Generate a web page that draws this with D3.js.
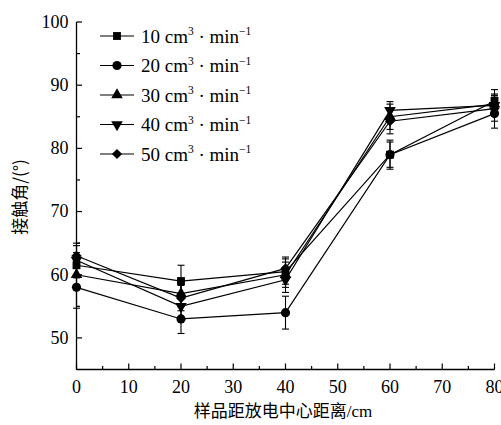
<!DOCTYPE html>
<html>
<head>
<meta charset="utf-8">
<script src="https://cdn.jsdelivr.net/npm/d3@7"></script>
<style>
  html, body { margin: 0; padding: 0; background: #fff; }
  #chart { width: 501px; height: 425px; }
  text { fill: #000; }
</style>
</head>
<body>
<div id="chart"></div>
<script>
// distance from discharge centre (cm)
const distances = [0, 20, 40, 60, 80]
const xTicks = [0, 10, 20, 30, 40, 50, 60, 70, 80]
const yTicks = [50, 60, 70, 80, 90, 100]

const seriesNames = ["10", "20", "30", "40", "50"]
const seriesSymbols = ["square", "circle", "triangle", "triangleDown", "diamond"]

// contact angle (deg)
const angle10 = [61.5, 59.0, 60.5, 79.0, 87.5]
const angle20 = [58.0, 53.0, 54.0, 79.0, 85.5]
const angle30 = [60.0, 57.0, 60.0, 85.0, 87.0]
const angle40 = [62.3, 55.0, 59.2, 86.0, 86.8]
const angle50 = [63.0, 56.3, 61.0, 84.3, 86.3]

// error bar half-lengths
const err10 = [2.0, 2.5, 2.0, 2.0, 1.8]
const err20 = [3.3, 2.3, 2.6, 2.3, 2.3]
const err30 = [2.0, 2.0, 2.0, 2.0, 1.6]
const err40 = [2.3, 2.0, 2.0, 1.4, 1.6]
const err50 = [2.0, 2.0, 1.8, 2.0, 2.0]

const allAngles = [angle10, angle20, angle30, angle40, angle50]
const allErrs = [err10, err20, err30, err40, err50]

const dataset = seriesNames.map((name, i) => ({
    name: name,
    symbol: seriesSymbols[i],
    points: distances.map((d, j) => ({ x: d, y: allAngles[i][j], e: allErrs[i][j] }))
}))

const width = 501
const height = 425

const svg = d3.select("#chart").append("svg")
    .attr("width", width)
    .attr("height", height)

const xScale = d3.scaleLinear().domain([0, 80]).range([76.5, 494.5])
const yScale = d3.scaleLinear().domain([45, 100]).range([369.5, 22])

const serif = "'Liberation Serif', 'Times New Roman', serif"
const cjk = "'Noto Sans CJK SC', sans-serif"

// axes: ticks pointing inwards, minor ticks every half step
const xAxis = svg.append("g").attr("transform", `translate(0, ${yScale(45)})`)
xAxis.append("line")
    .attr("x1", xScale(0)).attr("x2", xScale(80))
    .attr("stroke", "#000").attr("stroke-width", 1.3)
xAxis.selectAll(".xminor").data(d3.range(5, 80, 10)).join("line")
    .attr("x1", d => xScale(d)).attr("x2", d => xScale(d))
    .attr("y1", 0).attr("y2", -3.5)
    .attr("stroke", "#000").attr("stroke-width", 1.2)
xAxis.selectAll(".xmajor").data(xTicks).join("line")
    .attr("x1", d => xScale(d)).attr("x2", d => xScale(d))
    .attr("y1", 0).attr("y2", -6)
    .attr("stroke", "#000").attr("stroke-width", 1.2)
xAxis.selectAll(".xlabel").data(xTicks).join("text")
    .attr("x", d => xScale(d))
    .attr("y", 23.5)
    .attr("text-anchor", "middle")
    .style("font-family", serif)
    .style("font-size", "18px")
    .text(d => d)

const yAxis = svg.append("g").attr("transform", `translate(${xScale(0)}, 0)`)
yAxis.append("line")
    .attr("y1", yScale(45)).attr("y2", yScale(100))
    .attr("stroke", "#000").attr("stroke-width", 1.3)
yAxis.selectAll(".yminor").data(d3.range(55, 100, 10)).join("line")
    .attr("y1", d => yScale(d)).attr("y2", d => yScale(d))
    .attr("x1", 0).attr("x2", 3.5)
    .attr("stroke", "#000").attr("stroke-width", 1.2)
yAxis.selectAll(".ymajor").data(yTicks).join("line")
    .attr("y1", d => yScale(d)).attr("y2", d => yScale(d))
    .attr("x1", 0).attr("x2", 5.5)
    .attr("stroke", "#000").attr("stroke-width", 1.2)
yAxis.selectAll(".ylabel").data(yTicks).join("text")
    .attr("x", -8)
    .attr("y", d => yScale(d))
    .attr("dy", "0.33em")
    .attr("text-anchor", "end")
    .style("font-family", serif)
    .style("font-size", "18px")
    .text(d => d)

// axis titles
svg.append("text")
    .attr("x", 283)
    .attr("y", 417)
    .attr("text-anchor", "middle")
    .style("font-size", "17px")
    .style("font-family", cjk)
    .html(`样品距放电中心距离<tspan style="font-family:${serif.replace(/'/g, "&quot;")}">/cm</tspan>`)

svg.append("text")
    .attr("transform", "translate(26, 197) rotate(-90)")
    .attr("text-anchor", "middle")
    .style("font-size", "17px")
    .style("font-family", cjk)
    .text("接触角/(°)")

// symbol helper
function symbolPath(kind) {
    if (kind === "square") return d3.symbol(d3.symbolSquare, 62)()
    if (kind === "circle") return d3.symbol(d3.symbolCircle, 66)()
    if (kind === "diamond") return d3.symbol(d3.symbolSquare, 52)()
    return d3.symbol(d3.symbolTriangle, 58)()
}
function symbolRotate(kind) {
    if (kind === "triangleDown") return " rotate(180)"
    if (kind === "diamond") return " rotate(45)"
    return ""
}

const line = d3.line().x(d => xScale(d.x)).y(d => yScale(d.y))

const plot = svg.append("g")

plot.selectAll(".series-line").data(dataset).join("path")
    .attr("class", "series-line")
    .attr("d", d => line(d.points))
    .attr("fill", "none")
    .attr("stroke", "#000")
    .attr("stroke-width", 1.2)

const capHalf = 3.5
dataset.forEach(s => {
    const g = plot.append("g")
    g.selectAll(".err").data(s.points).join("line")
        .attr("x1", d => xScale(d.x)).attr("x2", d => xScale(d.x))
        .attr("y1", d => yScale(d.y - d.e)).attr("y2", d => yScale(d.y + d.e))
        .attr("stroke", "#000").attr("stroke-width", 1.1)
    g.selectAll(".cap-top").data(s.points).join("line")
        .attr("x1", d => xScale(d.x) - capHalf).attr("x2", d => xScale(d.x) + capHalf)
        .attr("y1", d => yScale(d.y + d.e)).attr("y2", d => yScale(d.y + d.e))
        .attr("stroke", "#000").attr("stroke-width", 1.1)
    g.selectAll(".cap-bot").data(s.points).join("line")
        .attr("x1", d => xScale(d.x) - capHalf).attr("x2", d => xScale(d.x) + capHalf)
        .attr("y1", d => yScale(d.y - d.e)).attr("y2", d => yScale(d.y - d.e))
        .attr("stroke", "#000").attr("stroke-width", 1.1)
})

dataset.forEach(s => {
    plot.append("g").selectAll("path").data(s.points).join("path")
        .attr("d", symbolPath(s.symbol))
        .attr("transform", d => `translate(${xScale(d.x)}, ${yScale(d.y)})${symbolRotate(s.symbol)}`)
        .attr("fill", "#000")
})

// legend
const legendRowY = d3.scaleLinear().domain([0, 4]).range([36, 154])
const legend = svg.append("g")
const rows = legend.selectAll("g").data(dataset).join("g")
    .attr("transform", (d, i) => `translate(0, ${legendRowY(i)})`)
rows.append("line")
    .attr("x1", 100).attr("x2", 134)
    .attr("stroke", "#000").attr("stroke-width", 1.2)
rows.append("path")
    .attr("d", d => symbolPath(d.symbol))
    .attr("transform", d => `translate(117, 0)${symbolRotate(d.symbol)}`)
    .attr("fill", "#000")
const labels = rows.append("text")
    .attr("x", 141)
    .attr("y", 6.5)
    .style("font-family", serif)
    .style("font-size", "19px")
labels.append("tspan").text(d => d.name + " cm")
labels.append("tspan").attr("dy", -7.5).style("font-size", "11.5px").text("3")
labels.append("tspan").attr("dy", 7.5).text(" · min")
labels.append("tspan").attr("dy", -7.5).style("font-size", "11.5px").text("−1")
</script>
</body>
</html>
